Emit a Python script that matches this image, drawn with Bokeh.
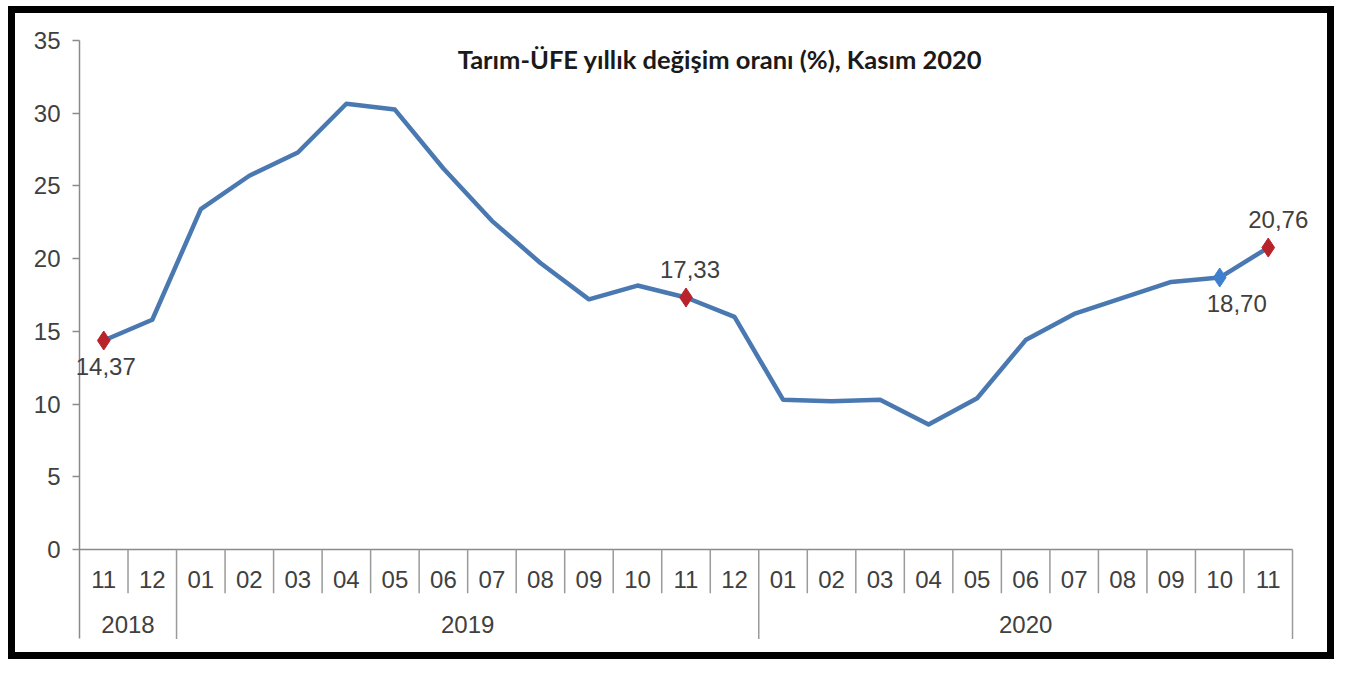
import numpy as np
from bokeh.plotting import figure
from bokeh.models import Range1d, FixedTicker, ColumnDataSource, LabelSet, Label
from bokeh.core.properties import value
from bokeh.embed import file_html
from bokeh.resources import INLINE

# ---- data ----
years = ["2018"] * 2 + ["2019"] * 12 + ["2020"] * 11
months = ["11", "12",
          "01", "02", "03", "04", "05", "06", "07", "08", "09", "10", "11", "12",
          "01", "02", "03", "04", "05", "06", "07", "08", "09", "10", "11"]
values = [14.37, 15.8,
          23.4, 25.7, 27.3, 30.65, 30.25, 26.2, 22.6, 19.7, 17.2, 18.15, 17.33, 16.0,
          10.3, 10.2, 10.3, 8.6, 10.4, 14.4, 16.2, 17.3, 18.4, 18.70, 20.76]
year_labels = ["2018", "2019", "2020"]
y_ticks = [0, 5, 10, 15, 20, 25, 30, 35]
red_idx = [0, 12, 24]
blue_idx = [23]
label_idx = [0, 12, 23, 24]
label_text = ["14,37", "17,33", "18,70", "20,76"]
label_pos = ["below", "above", "below", "above"]
title_text = "Tarım-ÜFE yıllık değişim oranı (%), Kasım 2020"

n = len(values)
xc = np.arange(n) + 0.5

# ---- layout (pixels) ----
W, H = 1334, 659
FL, FT, FR, FB = 11, 9, 4, 4          # borders around the frame (frame outline = black box)
frame_w = W - FL - FR
frame_h = H - FT - FB
AX_X_PX = 79 - FL                      # where category 0 starts inside the frame
PX_PER_CAT = 48.52
ZERO_Y_PX = 549 - FT                   # y=0 position from frame top
PX_PER_UNIT = 14.543

x_start = -AX_X_PX / PX_PER_CAT
x_end = x_start + frame_w / PX_PER_CAT
y_end = ZERO_Y_PX / PX_PER_UNIT
y_start = y_end - frame_h / PX_PER_UNIT
SEP_MONTH = -3.0
SEP_YEAR = -6.15

p = figure(width=W, height=H,
           x_range=Range1d(x_start, x_end), y_range=Range1d(y_start, y_end),
           output_backend="svg", toolbar_location=None,
           x_axis_location=None,
           min_border_left=FL, min_border_right=FR,
           min_border_top=FT, min_border_bottom=FB)
p.grid.visible = False
p.outline_line_color = "black"
p.outline_line_width = 7
p.outline_line_join = "miter"
p.background_fill_color = "white"
p.border_fill_color = "white"

ax = p.yaxis[0]
ax.fixed_location = 0
ax.bounds = (SEP_YEAR, 35)
ax.ticker = FixedTicker(ticks=y_ticks)
ax.axis_line_color = "#8a8a8a"
ax.axis_line_width = 1.5
ax.major_tick_line_color = "#8a8a8a"
ax.major_tick_line_width = 1.5
ax.major_tick_out = 7
ax.major_tick_in = 0
ax.minor_tick_line_color = None
ax.major_label_text_font = "Liberation Sans"
ax.major_label_text_font_size = "24px"
ax.major_label_text_color = "#404040"
ax.major_label_standoff = 12

# x axis baseline
p.segment(x0=[0], y0=[0], x1=[n], y1=[0], line_color="#8a8a8a", line_width=1.5)

# separators
sep_x, sep_y1 = [], []
for i in range(1, n + 1):
    is_year = (i == n) or (years[i] != years[i - 1])
    sep_x.append(i)
    sep_y1.append(SEP_YEAR if is_year else SEP_MONTH)
p.segment(x0=sep_x, y0=[0] * len(sep_x), x1=sep_x, y1=sep_y1,
          line_color="#9a9a9a", line_width=1.5)

# month labels
p.text(x=xc, y=[-2.06] * n, text=months, text_align="center", text_baseline="middle",
       text_font=value("Liberation Sans"), text_font_size="24px", text_color="#404040")

# year labels
yx = [float(np.mean([xc[i] for i in range(n) if years[i] == y])) for y in year_labels]
p.text(x=yx, y=[-5.16] * len(yx), text=year_labels, text_align="center",
       text_baseline="middle", text_font=value("Liberation Sans"),
       text_font_size="24px", text_color="#404040")

# line
p.line(xc, values, line_color="#4A79B2", line_width=4.5, line_join="round")

# markers
p.scatter([xc[i] for i in red_idx], [values[i] for i in red_idx], marker="diamond",
          size=19, fill_color="#B8222B", line_color="#B8222B")
p.scatter([xc[i] for i in blue_idx], [values[i] for i in blue_idx], marker="diamond",
          size=19, fill_color="#3F7FD0", line_color="#3F7FD0")

# value labels
src = ColumnDataSource(dict(
    x=[xc[i] for i in label_idx],
    y=[values[i] for i in label_idx],
    t=label_text,
    yo=[28 if pos == "above" else -26 for pos in label_pos],
    xo=[2, 4, 17, 10],
))
p.add_layout(LabelSet(x="x", y="y", text="t", source=src, y_offset="yo", x_offset="xo",
                      text_align="center", text_baseline="middle",
                      text_font=value("Liberation Sans"), text_font_size="24px",
                      text_color="#404040"))

# title inside plot
p.add_layout(Label(x=13.2, y=33.75, text=title_text, text_align="center",
                   text_baseline="middle", text_font="Lato", text_font_style="bold",
                   text_font_size="25.5px", text_color="#1a1a1a"))

open("out.html", "w").write(file_html(p, INLINE))
